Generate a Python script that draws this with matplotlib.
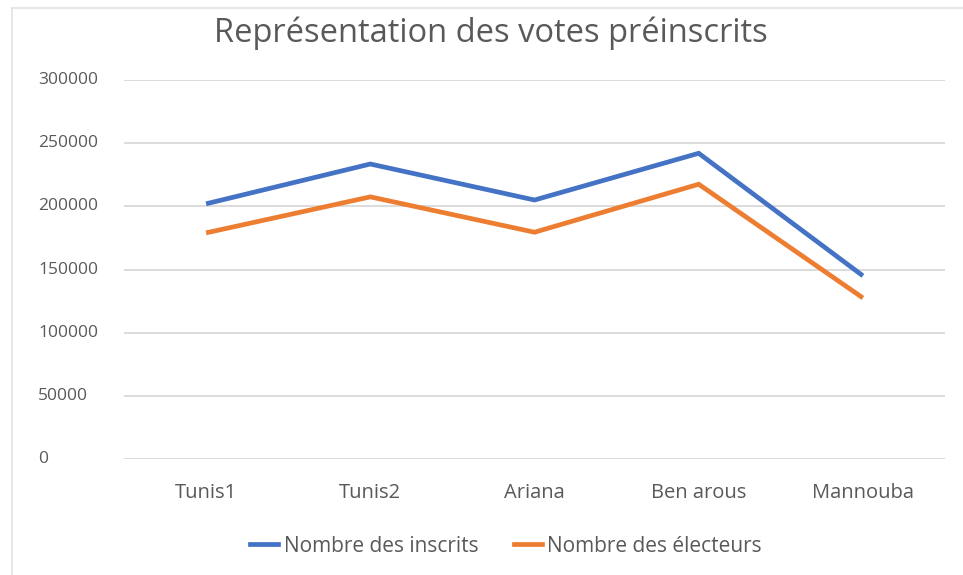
import matplotlib
matplotlib.use("Agg")
import matplotlib.pyplot as plt
from matplotlib.lines import Line2D

categories = ["Tunis1", "Tunis2", "Ariana", "Ben arous", "Mannouba"]
inscrits = [202000, 233500, 205000, 242000, 145000]
electeurs = [179000, 207500, 179500, 217500, 127500]
yticks = [0, 50000, 100000, 150000, 200000, 250000, 300000]
title = "Représentation des votes préinscrits"
labels = ["Nombre des inscrits", "Nombre des électeurs"]

W, H = 963, 575
fig = plt.figure(figsize=(W / 100, H / 100), dpi=100)
plt.rcParams['font.family'] = ['Open Sans', 'DejaVu Sans']
txt = "#595959"

ax = fig.add_axes([124 / W, (H - 459) / H, (945 - 124) / W, (459 - 80) / H])
x = list(range(len(categories)))
ax.plot(x, inscrits, color="#4472C4", lw=3.4, solid_capstyle="butt", solid_joinstyle="miter")
ax.plot(x, electeurs, color="#ED7D31", lw=3.4, solid_capstyle="butt", solid_joinstyle="miter")
ax.set_xlim(-0.5, len(categories) - 0.5)
ax.set_ylim(0, 300000)
ax.set_yticks(yticks)
ax.set_yticklabels([])
ax.yaxis.grid(True, color="#D9D9D9", lw=1.3)
ax.set_axisbelow(True)
for s in ax.spines.values():
    s.set_visible(False)
ax.tick_params(axis="both", length=0)
ax.set_xticks(x)
ax.set_xticklabels(categories, fontsize=14.5, color=txt)
ax.tick_params(axis="x", pad=17)

# y labels left-aligned at x=38px
for v in yticks:
    ypix = 459 - (v / 300000) * (459 - 80)
    fig.text(38 / W, 1 - ypix / H, str(v), ha="left", va="center", fontsize=12.5, color=txt)

fig.text(491 / W, 1 - 33 / H, title, ha="center", va="center", fontsize=23.5, color=txt)

handles = [Line2D([], [], color="#4472C4", lw=3.4), Line2D([], [], color="#ED7D31", lw=3.4)]
fig.legend(handles, labels, loc="center", bbox_to_anchor=(506 / W, 1 - 546 / H), ncol=2,
           frameon=False, fontsize=15, labelcolor=txt, handlelength=1.35, handletextpad=0.25,
           columnspacing=1.7)

# document frame lines
fig.add_artist(Line2D([12 / W, 1], [1 - 8 / H, 1 - 8 / H], color="#E3E3E3", lw=1.2))
fig.add_artist(Line2D([12 / W, 12 / W], [0, 1 - 8 / H], color="#E3E3E3", lw=1.2))

fig.savefig("out.png", dpi=100)
